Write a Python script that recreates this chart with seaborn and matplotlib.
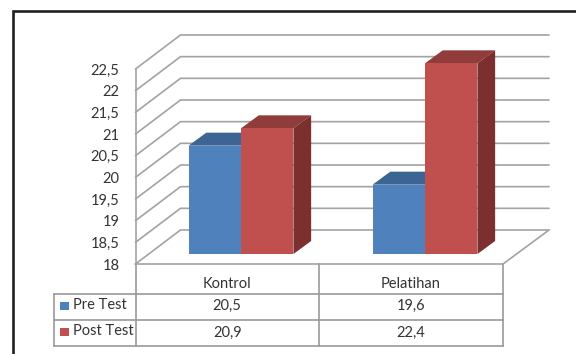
import matplotlib
matplotlib.use("Agg")
import matplotlib.pyplot as plt
import pandas as pd
import seaborn as sns
from matplotlib.patches import Polygon, Rectangle

# Chart values
categories = ["Kontrol", "Pelatihan"]
pre_test = [20.5, 19.6]
post_test = [20.9, 22.4]
series_names = ["Pre Test", "Post Test"]
y_ticks = [18, 18.5, 19, 19.5, 20, 20.5, 21, 21.5, 22, 22.5]

FRONT = ["#4f81bd", "#c0504d"]
TOP = ["#3c6594", "#8f3c3a"]
SIDE = ["#355a85", "#7b302f"]
GRID = "#a3a3a3"
TEXT = "#333333"
W, H = 576, 354


def comma(v):
    return f"{v:g}".replace(".", ",")


def box(left, top, right, bottom):
    return [left / W, 1 - bottom / H, (right - left) / W, (bottom - top) / H]


sns.set_style("white")
plt.rcParams["font.family"] = ["Lato", "DejaVu Sans"]
plt.rcParams["font.size"] = 10.5

fig = plt.figure(figsize=(W / 100, H / 100), dpi=100)

# Page layer in pixel coordinates: outer frame and data table
page = fig.add_axes([0, 0, 1, 1], zorder=0)
page.set_xlim(0, W)
page.set_ylim(H, 0)
page.axis("off")
page.plot([13, 13, W], [H, 11, 11], color="#231f20", lw=1.9, solid_joinstyle="miter")

col_x = [135.5, 319, 503]
row_y = [293.5, 319.5, 345.5]
line = dict(color="#9a9a9a", lw=1.2, solid_capstyle="projecting")
for x in col_x:
    page.plot([x, x], [264, row_y[-1]], **line)
page.plot([54, 54], [row_y[0], row_y[-1]], **line)
for y in row_y:
    page.plot([54, col_x[-1]], [y, y], **line)

for i, name in enumerate(categories):
    cx = (col_x[i] + col_x[i + 1]) / 2
    page.text(cx, 284, name, ha="center", va="center", color=TEXT)
    page.text(cx, row_y[0] + 12.5, comma(pre_test[i]), ha="center", va="center", color=TEXT)
    page.text(cx, row_y[1] + 13, comma(post_test[i]), ha="center", va="center", color=TEXT)
for i, name in enumerate(series_names):
    page.add_patch(Rectangle((60, row_y[i] + 8), 8.5, 8.5, color=FRONT[i], lw=0))
    page.text(73, row_y[i] + 11.5, name, ha="left", va="center", color=TEXT)

# Wall layer: value axis in value units, x in pixels
wall = fig.add_axes(box(135.5, 69, 503, 264), zorder=1)
wall.patch.set_visible(False)
wall.set_xlim(135.5, 503)
wall.set_ylim(min(y_ticks), max(y_ticks))
unit = 195 / (max(y_ticks) - min(y_ticks))
wall_dx, wall_dy = 45, 34 / unit
for v in y_ticks:
    wall.plot([135.5, 135.5 + wall_dx, 549], [v, v + wall_dy, v + wall_dy],
              color=GRID, lw=1.2, clip_on=False, solid_joinstyle="miter")
floor = y_ticks[0]
wall.plot([549, 503], [floor + wall_dy, floor], color=GRID, lw=1.2, clip_on=False)
wall.plot([135.5, 503], [floor, floor], color=GRID, lw=1.2, clip_on=False)
wall.set_yticks(y_ticks)
wall.set_yticklabels([comma(v) for v in y_ticks], color=TEXT)
wall.set_xticks([])
wall.tick_params(axis="y", length=0, pad=11.5)
sns.despine(ax=wall, top=True, right=True, bottom=True)
wall.spines["left"].set_color(GRID)
wall.spines["left"].set_linewidth(1.2)

# Bar layer: front faces come from seaborn, depth faces from each bar's geometry
table = pd.DataFrame({
    "category": categories * 2,
    "series": [series_names[0]] * 2 + [series_names[1]] * 2,
    "value": pre_test + post_test,
})
bars = fig.add_axes(box(149, 59, 517, 254), zorder=2)
sns.barplot(data=table, x="category", y="value", hue="series", order=categories,
            hue_order=series_names, palette=FRONT, width=0.57, legend=False,
            saturation=1, ax=bars)
bars.set_ylim(min(y_ticks), max(y_ticks))
bars.set_xlim(-0.5, 1.5)
bars.axis("off")

depth_x = 17.7 / 184
depth_y = 13 / unit
for i, bar in enumerate(list(bars.patches)):
    series = i // len(categories)
    x0, w, top = bar.get_x(), bar.get_width(), bar.get_y() + bar.get_height()
    x1 = x0 + w
    bar.set_edgecolor("none")
    bar.set_zorder(3 + series * 2)
    bars.add_patch(Polygon([(x0, top), (x1, top), (x1 + depth_x, top + depth_y),
                            (x0 + depth_x, top + depth_y)], closed=True,
                           facecolor=TOP[series], edgecolor="none",
                           zorder=2 + series * 2, clip_on=False))
    bars.add_patch(Polygon([(x1, floor), (x1, top), (x1 + depth_x, top + depth_y),
                            (x1 + depth_x, floor + depth_y)], closed=True,
                           facecolor=SIDE[series], edgecolor="none",
                           zorder=2 + series * 2, clip_on=False))

fig.savefig("out.png", dpi=100, facecolor="white")
